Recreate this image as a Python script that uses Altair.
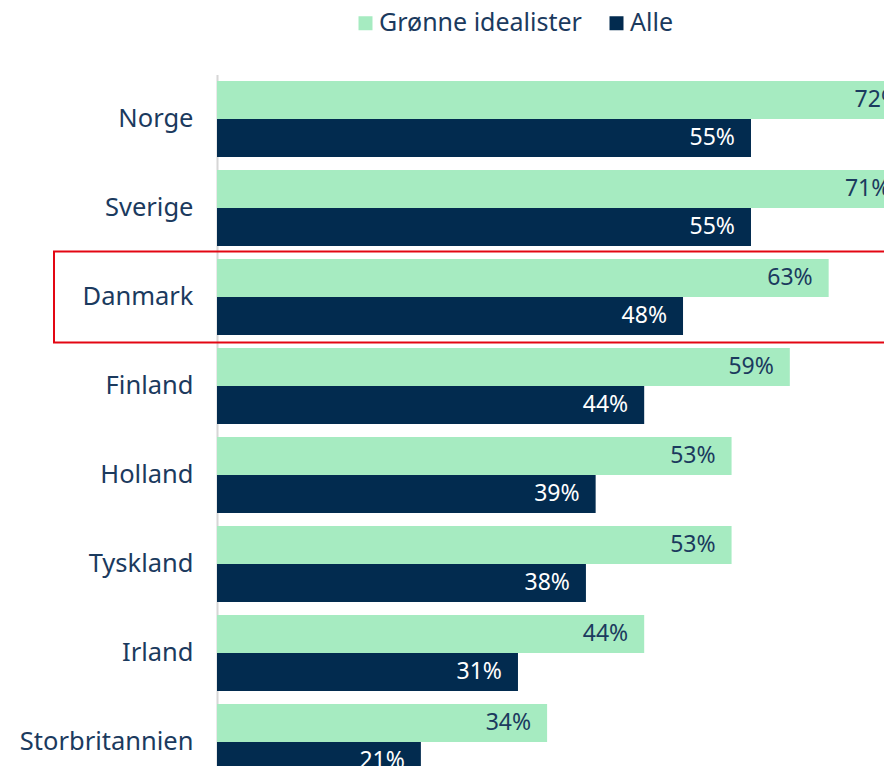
import altair as alt
import pandas as pd

countries = ["Norge", "Sverige", "Danmark", "Finland", "Holland", "Tyskland", "Irland", "Storbritannien"]
series = ["Grønne idealister", "Alle"]
groenne = [72, 71, 63, 59, 53, 53, 44, 34]
alle = [55, 55, 48, 44, 39, 38, 31, 21]
highlight = ["Danmark"]

rows = []
for c, g, a in zip(countries, groenne, alle):
    rows.append({"country": c, "series": series[0], "value": g, "label": f"{g}%"})
    rows.append({"country": c, "series": series[1], "value": a, "label": f"{a}%"})
df = pd.DataFrame(rows)
hl = pd.DataFrame({"country": highlight})

GREEN = "#A6EBC1"
NAVY = "#022B4F"
TEXT = "#1B3A5E"
FONT = "Noto Sans"

W = 667
H = 691
yscale = alt.Scale(domain=countries, paddingInner=0.146, paddingOuter=0.073, range=[0, 712])
xscale = alt.Scale(domain=[0, 68.7], nice=False)
oscale = alt.Scale(domain=series, paddingInner=0)

base = alt.Chart(df)

bars = base.mark_bar().encode(
    x=alt.X("value:Q", scale=xscale, axis=None),
    y=alt.Y("country:N", scale=yscale, sort=countries,
            axis=alt.Axis(title=None, ticks=False, labelFontSize=25.5, labelColor=TEXT,
                          labelFont=FONT, labelPadding=24, domainColor="#D6D6D6",
                          domainWidth=2, labelLimit=400)),
    yOffset=alt.YOffset("series:N", scale=oscale),
    color=alt.Color("series:N", scale=alt.Scale(domain=series, range=[GREEN, NAVY]),
                    legend=alt.Legend(title=None, orient="none", legendX=136, legendY=-64,
                                      direction="horizontal", symbolType="square",
                                      symbolSize=196, symbolStrokeWidth=0,
                                      labelFontSize=25, labelFont=FONT, labelColor=TEXT,
                                      labelOffset=1, columnPadding=22, labelLimit=400)),
)

labels = base.mark_text(align="right", baseline="middle", dx=-16, fontSize=23, font=FONT).encode(
    x=alt.X("value:Q", scale=xscale),
    y=alt.Y("country:N", scale=yscale, sort=countries),
    yOffset=alt.YOffset("series:N", scale=oscale),
    text="label:N",
    color=alt.condition(alt.datum.series == "Alle", alt.value("white"), alt.value(TEXT)),
)

box = alt.Chart(hl).mark_rect(height={"band": 1.2}, fillOpacity=0, stroke="#E30613",
                              strokeWidth=2).encode(
    y=alt.Y("country:N", scale=yscale, sort=countries),
    x=alt.value(-163),
    x2=alt.value(1000),
)

chart = alt.layer(bars, labels, box).properties(
    width=W, height=H,
    autosize=alt.AutoSizeParams(type="none"),
    padding={"left": 209, "top": 66.5, "right": 0, "bottom": 0},
    background="white",
).configure_view(stroke=None)

chart.save("out.html", embed_options={"renderer": "svg", "actions": False})
